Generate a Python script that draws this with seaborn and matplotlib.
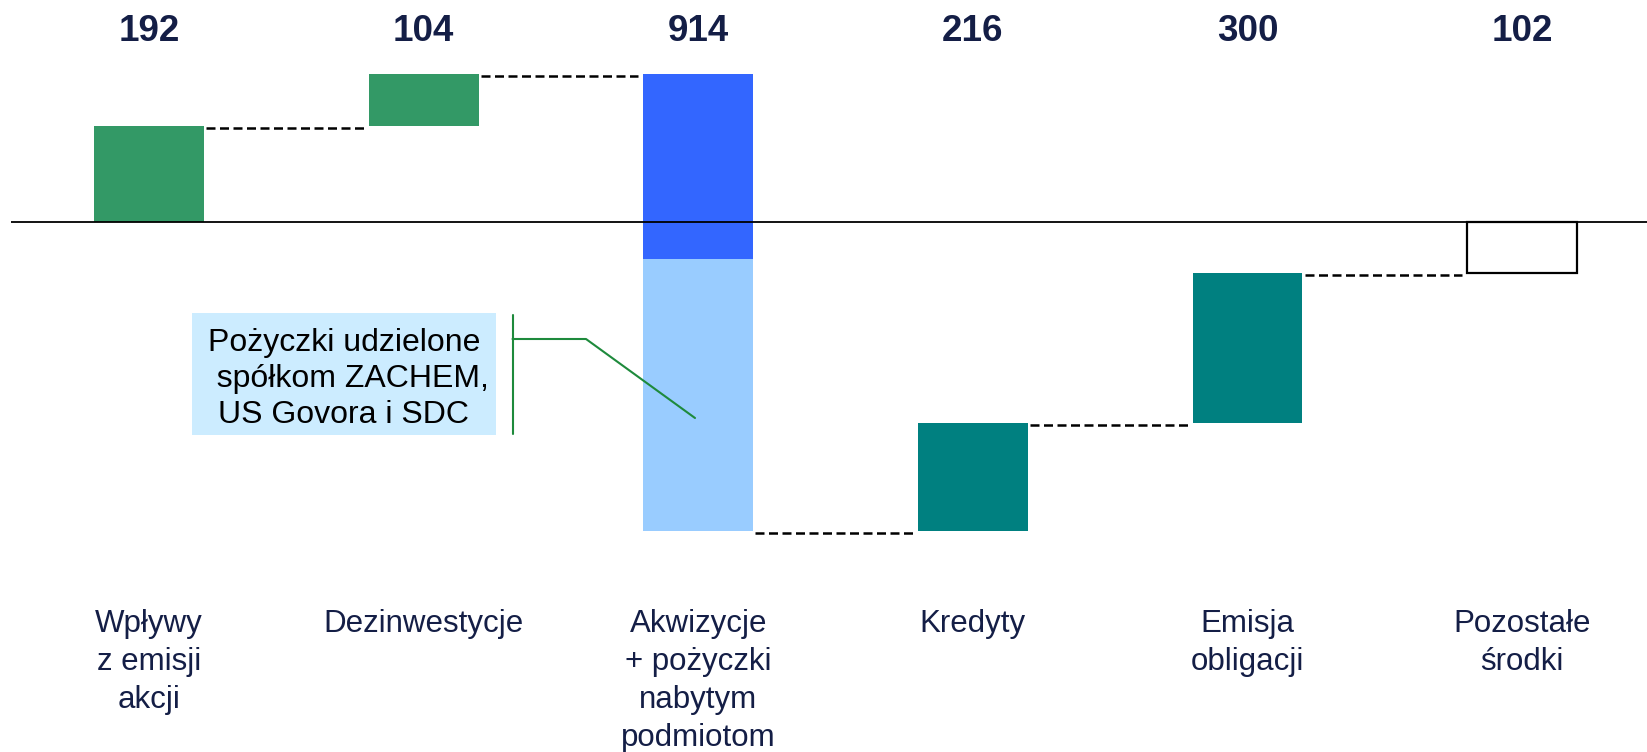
import matplotlib
matplotlib.use("Agg")
import matplotlib.pyplot as plt
import matplotlib.transforms as mtransforms
from matplotlib.patches import Rectangle
import seaborn as sns

# ---- data ----
categories = ["Wpływy\nz emisji\nakcji", "Dezinwestycje", "Akwizycje\n+ pożyczki\nnabytym\npodmiotom",
              "Kredyty", "Emisja\nobligacji", "Pozostałe\nśrodki"]
values = [192, 104, 914, 216, 300, 102]
signs = [1, 1, -1, 1, 1, 1]
acq_parts = [370, 544]   # acquisitions / loans to acquired entities (split of 914)
value_labels = ["192", "104", "914", "216", "300", "102"]
callout_text = "Pożyczki udzielone\n  spółkom ZACHEM,\nUS Govora i SDC"

bar_colors = ["#339966", "#339966", None, "#008080", "#008080", "white"]
acq_colors = ["#3366FF", "#99CCFF"]

sns.set_theme(style="white")
plt.rcParams["font.family"] = ["Liberation Sans", "DejaVu Sans"]

W, H = 1647, 752
fig = plt.figure(figsize=(W / 100, H / 100), dpi=100)
ax = fig.add_axes([10.5 / W, 0, 1 - 10.5 / W, 1])

# running totals
bottoms, heights, ends = [], [], []
level = 0
for v, s in zip(values, signs):
    if s > 0:
        bottoms.append(level); heights.append(v)
        level += v
    else:
        bottoms.append(level - v); heights.append(v)
        level -= v
    ends.append(level)

order = categories
bw = 0.4
for i, cat in enumerate(categories):
    if i == 2:
        top = bottoms[i] + heights[i]
        b1 = top - acq_parts[0]
        sns.barplot(x=[cat], y=[acq_parts[0]], bottom=b1, order=order, color=acq_colors[0],
                    width=bw, errorbar=None, saturation=1, ax=ax, linewidth=0)
        sns.barplot(x=[cat], y=[acq_parts[1]], bottom=b1 - acq_parts[1], order=order, color=acq_colors[1],
                    width=bw, errorbar=None, saturation=1, ax=ax, linewidth=0)
    elif i == 5:
        sns.barplot(x=[cat], y=[heights[i]], bottom=bottoms[i], order=order, color="white",
                    edgecolor="black", linewidth=1.6,
                    width=bw, errorbar=None, saturation=1, ax=ax)
    else:
        sns.barplot(x=[cat], y=[heights[i]], bottom=bottoms[i], order=order, color=bar_colors[i],
                    width=bw, errorbar=None, saturation=1, ax=ax, linewidth=0)

# connectors
for i in range(len(values) - 1):
    lvl = ends[i]
    ax.plot([i + bw / 2 + 0.008, i + 1 - bw / 2 - 0.018], [lvl - 4, lvl - 4], color="black",
            linestyle=(0, (3.6, 1.8)), linewidth=1.8, zorder=3)

ax.axhline(0, color="black", linewidth=1.3, zorder=4)

ax.set_xlim(-0.505, 5.455)
ax.set_ylim(-(H - 221.5) / 0.5, 221.5 / 0.5)
ax.axis("off")

trans = mtransforms.blended_transform_factory(ax.transData, fig.transFigure)
for i, lab in enumerate(value_labels):
    ax.text(i, 1 - 31.5 / H, lab, transform=trans, ha="center", va="center",
            fontsize=26.5, fontweight="bold", color="#141E46")
for i, cat in enumerate(categories):
    ax.text(i, 1 - 609 / H, cat, transform=trans, ha="center", va="top",
            fontsize=22.5, color="#141E46", linespacing=1.35)

# callout
fx = lambda px: px / W
fy = lambda py: 1 - py / H
fig.patches.append(Rectangle((fx(192), fy(435)), fx(496) - fx(192), fy(313) - fy(435),
                             transform=fig.transFigure, facecolor="#CCECFF", edgecolor="none", zorder=5))
fig.text(fx(344), fy(379), callout_text, ha="center", va="center", fontsize=23,
         color="black", linespacing=1.25, zorder=6)
gcol = "#1E8A3C"
fig.lines.append(plt.Line2D([fx(512.5), fx(512.5)], [fy(315), fy(434)], transform=fig.transFigure,
                            color=gcol, linewidth=1.5))
fig.lines.append(plt.Line2D([fx(512.5), fx(586), fx(695)], [fy(339), fy(339), fy(418)],
                            transform=fig.transFigure, color=gcol, linewidth=1.5, zorder=7))

fig.savefig("out.png", dpi=100)
